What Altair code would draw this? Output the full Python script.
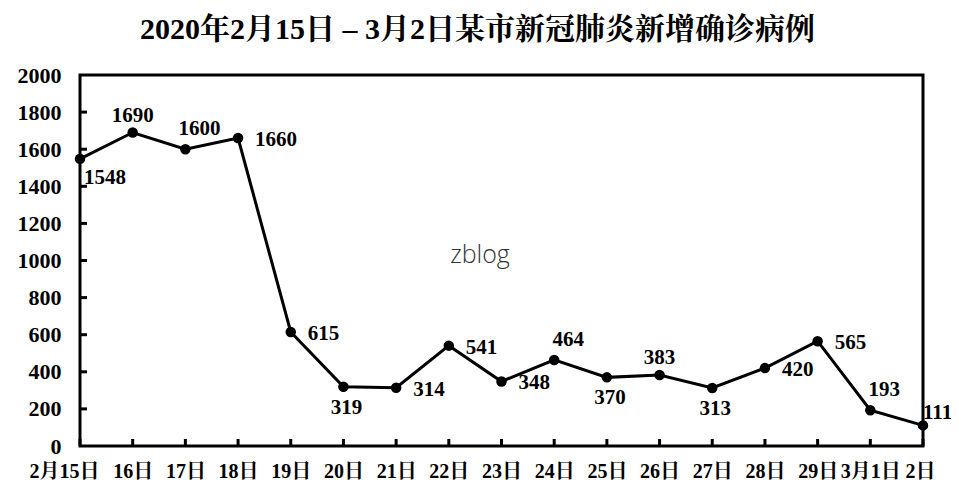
import altair as alt
import pandas as pd

dates = ["2月15日", "16日", "17日", "18日", "19日", "20日", "21日", "22日", "23日",
         "24日", "25日", "26日", "27日", "28日", "29日", "3月1日", "2日"]
cases = [1548, 1690, 1600, 1660, 615, 319, 314, 541, 348, 464, 370, 383, 313, 420, 565, 193, 111]
label_pos = ["below-right", "above", "above-right", "right", "right", "below", "right", "right",
             "right", "above-right", "below", "above", "below", "right", "right", "above-right", "upper-right"]
y_ticks = [0, 200, 400, 600, 800, 1000, 1200, 1400, 1600, 1800, 2000]
inner_ticks = [200, 400, 600, 800, 1000, 1200, 1400, 1600, 1800]
title_text = "2020年2月15日 – 3月2日某市新冠肺炎新增确诊病例"
watermark = "zblog"

df = pd.DataFrame({"date": dates, "cases": cases, "pos": label_pos})
ytick_df = pd.DataFrame({"cases": inner_ticks})

W, H = 843, 371
FONT = "Liberation Serif, Noto Serif CJK SC, Noto Sans CJK SC, serif"

placements = {
    "below-right": dict(align="left", dx=4, dy=19),
    "above": dict(align="center", dx=0, dy=-17),
    "above-right": dict(align="center", dx=14, dy=-20),
    "right": dict(align="left", dx=17, dy=2),
    "below": dict(align="center", dx=3, dy=21),
    "upper-right": dict(align="left", dx=0, dy=-12),
}

x_axis = alt.Axis(title=None, labelFont=FONT, labelFontSize=20, labelFontWeight="bold",
                  labelColor="black", labelAngle=0, labelPadding=15, ticks=False,
                  domain=False, grid=False, labelOverlap=False,
                  labelOffset={"expr": "datum.value == '2月15日' ? -16 : (datum.value == '2日' ? -3 : 0)"})
y_axis = alt.Axis(title=None, values=y_ticks, format="d", labelFont=FONT, labelFontSize=22,
                  labelFontWeight="bold", labelColor="black", labelPadding=19,
                  ticks=False, domain=False, grid=False, labelOverlap=False)

xs = alt.Scale(type="point", padding=0)
ys = alt.Scale(domain=[0, 2000], nice=False)

X = alt.X("date:N", sort=dates, scale=xs, axis=x_axis)
Y = alt.Y("cases:Q", scale=ys, axis=y_axis)

base = alt.Chart(df)

line = base.mark_line(color="black", strokeWidth=3).encode(x=X, y=Y)

pts = base.mark_circle(size=110, color="black", opacity=1).encode(x=X, y=Y)

label_layers = []
for name, p in placements.items():
    label_layers.append(
        base.transform_filter(alt.datum.pos == name).mark_text(
            align=p["align"], baseline="middle", dx=p["dx"], dy=p["dy"],
            font=FONT, fontSize=21, fontWeight="bold", color="black"
        ).encode(x=X, y=Y, text=alt.Text("cases:Q"))
    )

yticks = alt.Chart(ytick_df).mark_rule(color="black", strokeWidth=3).encode(
    y=Y,
    x=alt.value(0),
    x2=alt.value(7),
)

xticks = base.mark_rule(color="black", strokeWidth=3).encode(
    x=X,
    y=alt.value(H),
    y2=alt.value(H - 7),
)

wm = alt.Chart(pd.DataFrame({"t": [watermark]})).mark_text(
    font="Open Sans", fontSize=25, fontWeight=300, color="#333333",
    align="center", baseline="alphabetic"
).encode(text="t:N", x=alt.value(400), y=alt.value(188))

chart = alt.layer(line, pts, *label_layers, yticks, xticks, wm).properties(
    width=W, height=H,
    title=alt.TitleParams(title_text, font=FONT, fontSize=30, fontWeight="bold",
                          color="black", anchor="middle", dx=-24, offset=19),
    autosize=alt.AutoSizeParams(type="none"),
    padding={"left": 72, "top": 67, "right": 28, "bottom": 40},
    background="white",
).configure_view(stroke="black", strokeWidth=3)

chart.save("out.html", embed_options={"renderer": "svg", "actions": False})
